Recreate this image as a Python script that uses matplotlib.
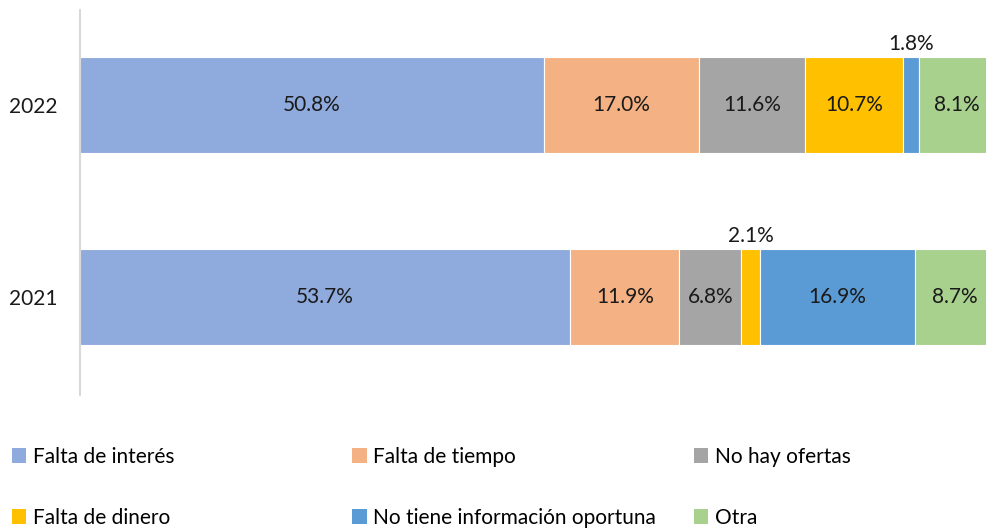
import numpy as np
import matplotlib.pyplot as plt
from matplotlib.patches import Patch

plt.rcParams['font.family'] = ['Lato', 'DejaVu Sans']

years = ['2021', '2022']
categories = ['Falta de interés', 'Falta de tiempo', 'No hay ofertas',
              'Falta de dinero', 'No tiene información oportuna', 'Otra']
vals_2021 = [53.7, 11.9, 6.8, 2.1, 16.9, 8.7]
vals_2022 = [50.8, 17.0, 11.6, 10.7, 1.8, 8.1]
colors = ['#8FAADC', '#F4B183', '#A5A5A5', '#FFC000', '#5B9BD5', '#A9D18E']

data = np.array([vals_2021, vals_2022])
y_pos = np.arange(len(years))
fs = 15

fig = plt.figure(figsize=(9.87, 5.29), dpi=100)
ax = fig.add_axes([0.081, 0.253, 0.919, 0.728])

left = np.zeros(len(years))
for j, cat in enumerate(categories):
    ax.barh(y_pos, data[:, j], left=left, height=0.5, color=colors[j],
            edgecolor='white', linewidth=0.8, label=cat)
    for i in range(len(years)):
        v = data[i, j]
        cx = left[i] + v / 2
        if v < 3:
            # small segments get their label above the bar
            ax.text(cx, y_pos[i] + 0.25 + 0.015, '%.1f%%' % v, ha='center',
                    va='bottom', fontsize=fs, color='#1a1a1a')
        else:
            ax.text(cx, y_pos[i], '%.1f%%' % v, ha='center', va='center',
                    fontsize=fs, color='#1a1a1a')
    left += data[:, j]

ax.set_xlim(0, 99.3)
ax.set_ylim(-0.51, 1.495)
ax.set_yticks(y_pos)
ax.set_yticklabels(years, fontsize=fs, color='#1a1a1a')
ax.set_xticks([])
ax.tick_params(axis='y', length=0, pad=16)
for s in ['top', 'right', 'bottom']:
    ax.spines[s].set_visible(False)
ax.spines['left'].set_color('#d9d9d9')
ax.spines['left'].set_linewidth(1.5)

# legend: three fixed-width columns, two rows
handles = [Patch(facecolor=c, edgecolor='none') for c in colors]
col_x = [0.012, 0.357, 0.703]
for k in range(3):
    fig.legend([handles[k], handles[k + 3]], [categories[k], categories[k + 3]],
               loc='upper left', bbox_to_anchor=(col_x[k], 0.155),
               frameon=False, fontsize=fs, handlelength=0.7, handleheight=0.7,
               handletextpad=0.3, labelspacing=1.95, borderpad=0, borderaxespad=0)

fig.savefig('out.png', dpi=100)
